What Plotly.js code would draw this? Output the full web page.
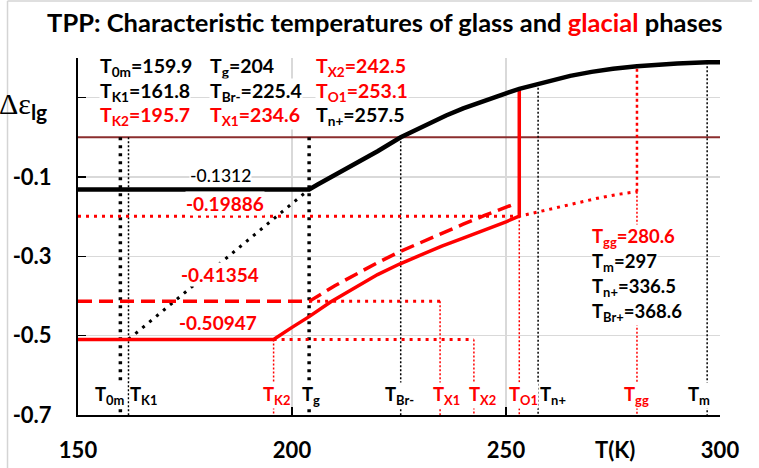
<!DOCTYPE html>
<html>
<head>
<meta charset="utf-8">
<script src="https://cdn.plot.ly/plotly-3.0.1.min.js"></script>
<style>html,body{margin:0;padding:0;background:#fff;}#chart{width:759px;height:468px;}</style>
</head>
<body>
<div id="chart"></div>
<script>
// ---------------- data ----------------
const xTicks = [150, 200, 250, 300];
const yTicks = [-0.7, -0.5, -0.3, -0.1, 0.1];
const yTickText = ['-0.7', '-0.5', '-0.3', '-0.1', ''];

// characteristic temperatures
const charKeys   = ['T0m', 'TK1', 'TK2', 'Tg', 'TBr-', 'TX1', 'TX2', 'TO1', 'Tn+', 'Tgg', 'Tm'];
const charTemps  = [159.9, 161.8, 195.7, 204, 225.4, 234.6, 242.5, 253.1, 257.5, 280.6, 297];
const charIsRed  = [false, false, true, false, false, true, true, true, false, true, false];

// plateau levels
const levelGlass = -0.1312;
const levelG1 = -0.19886;
const levelG2 = -0.41354;
const levelG3 = -0.50947;

// glass (black) curve
const T_glass  = [150, 204, 206, 208, 210, 213, 216, 220, 225.4, 230, 236, 240, 245, 250, 253.1, 257.5, 260, 265, 270, 275, 280.6, 285, 290, 297, 300];
const dE_glass = [-0.1312, -0.1312, -0.119, -0.107, -0.096, -0.078, -0.060, -0.035, 0.0, 0.024, 0.055, 0.073, 0.093, 0.111, 0.122, 0.135, 0.142, 0.155, 0.165, 0.173, 0.179, 0.183, 0.186, 0.189, 0.189];

// glacial solid curve
const T_solid  = [150, 195.7, 200, 204, 209, 215, 220, 225, 230, 235, 240, 245, 250, 253.1];
const dE_solid = [-0.50947, -0.50947, -0.479, -0.452, -0.415, -0.376, -0.346, -0.320, -0.297, -0.274, -0.254, -0.234, -0.213, -0.19886];

// glacial dashed curve
const T_dashed  = [150, 204, 210, 215, 220, 225, 230, 235, 240, 245, 250, 252.5];
const dE_dashed = [-0.41354, -0.41354, -0.374, -0.344, -0.316, -0.289, -0.265, -0.241, -0.219, -0.197, -0.176, -0.166];

// glacial dotted line / curve
const T_dotted  = [150, 253.1, 257.5, 262, 267, 272, 276, 280.6];
const dE_dotted = [-0.19886, -0.19886, -0.188, -0.177, -0.164, -0.152, -0.144, -0.137];

// right-hand list of further temperatures
const rightKeys = ['Tgg', 'Tm', 'Tn+', 'TBr+'];
const rightVals = [280.6, 297, 336.5, 368.6];
const rightRed  = [true, false, false, false];

// ---------------- helpers ----------------
const RED = '#ff0000';
const BLACK = '#000000';
const FONT = 'Lato, "Open Sans", sans-serif';
const Y0 = -0.7, Y1 = 0.2;
const PLOT_BOTTOM_PX = 415, PLOT_H_PX = 357;
function py(v) { return (v - Y0) / (Y1 - Y0); }                 // data -> paper y
function pxy(px) { return (PLOT_BOTTOM_PX - px) / PLOT_H_PX; }   // pixel row -> paper y
function interp(xs, ys, x) {
  for (let i = 1; i < xs.length; i++) {
    if (x <= xs[i]) {
      const t = (x - xs[i - 1]) / (xs[i] - xs[i - 1]);
      return ys[i - 1] + t * (ys[i] - ys[i - 1]);
    }
  }
  return ys[ys.length - 1];
}
function tc(key) { return charTemps[charKeys.indexOf(key)]; }
const yMin = -0.7;
function seg(x0, x1, y0, y1, color, width, dash) {
  return { x: [x0, x1], y: [y0, y1], mode: 'lines', type: 'scatter',
           line: { color: color, width: width, dash: dash }, hoverinfo: 'skip', showlegend: false };
}

const traces = [];
// zero line
traces.push(seg(150, 300, 0, 0, '#8b2e2e', 2, 'solid'));

// black verticals
const thickDot = '3px,5px';
const thinDot = '2px,2px';
traces.push(seg(tc('T0m'), tc('T0m'), 0, yMin, BLACK, 3.5, thickDot));
traces.push(seg(tc('TK1'), tc('TK1'), 0, yMin, BLACK, 1.5, thinDot));
traces.push(seg(tc('Tg'), tc('Tg'), 0, yMin, BLACK, 3.5, thickDot));
traces.push(seg(tc('TBr-'), tc('TBr-'), 0, yMin, BLACK, 1.5, thinDot));
traces.push(seg(tc('Tn+'), tc('Tn+'), interp(T_glass, dE_glass, tc('Tn+')), yMin, BLACK, 1.5, thinDot));
traces.push(seg(tc('Tm'), tc('Tm'), interp(T_glass, dE_glass, tc('Tm')), yMin, BLACK, 1.5, thinDot));

// red thin verticals
traces.push(seg(tc('TK2'), tc('TK2'), levelG3, yMin, RED, 1.5, thinDot));
traces.push(seg(tc('TX1'), tc('TX1'), levelG2, yMin, RED, 1.5, thinDot));
traces.push(seg(tc('TX2'), tc('TX2'), levelG3, yMin, RED, 1.5, thinDot));
traces.push(seg(tc('TO1'), tc('TO1'), levelG1, yMin, RED, 1.5, thinDot));
const ggLow = dE_dotted[dE_dotted.length - 1];
traces.push(seg(tc('Tgg'), tc('Tgg'), ggLow, yMin, RED, 1.5, thinDot));
traces.push(seg(tc('Tgg'), tc('Tgg'), ggLow, interp(T_glass, dE_glass, tc('Tgg')), RED, 2.5, '3px,3px'));

// black diagonal dotted
traces.push(seg(tc('TK1'), tc('Tg'), levelG3, levelGlass, BLACK, 3, '3px,6px'));

// red dotted horizontals
traces.push(seg(tc('Tg'), tc('TX1'), levelG2, levelG2, RED, 3, '3px,5px'));
traces.push(seg(tc('TK2'), tc('TX2'), levelG3, levelG3, RED, 3, '3px,5px'));
traces.push({ x: T_dotted, y: dE_dotted, mode: 'lines', type: 'scatter',
  line: { color: RED, width: 3, dash: '3px,5px' }, hoverinfo: 'skip', showlegend: false });

// dashed red
traces.push({ x: T_dashed, y: dE_dashed, mode: 'lines', type: 'scatter',
  line: { color: RED, width: 3.5, dash: '14px,7px' }, hoverinfo: 'skip', showlegend: false });

// solid red (plus jump at TO1 up to glass curve)
traces.push({ x: T_solid.concat([tc('TO1')]), y: dE_solid.concat([interp(T_glass, dE_glass, tc('TO1'))]),
  mode: 'lines', type: 'scatter', line: { color: RED, width: 3.5 }, hoverinfo: 'skip', showlegend: false });

// black glass curve
traces.push({ x: T_glass, y: dE_glass, mode: 'lines', type: 'scatter', line: { color: BLACK, width: 4.5 },
  hoverinfo: 'skip', showlegend: false });

// ---------------- annotations ----------------
function sub(k) {
  const m = k.match(/^T(.+)$/);
  return 'T<sub>' + m[1] + '</sub>';
}
function eqLine(k, val) { return sub(k) + '=' + val; }

const annotations = [];
function txt(x, xref, yPaper, text, size, color, weight, xanchor) {
  annotations.push({ x: x, y: yPaper, xref: xref, yref: 'paper', xanchor: xanchor || 'center', yanchor: 'middle',
    showarrow: false, bgcolor: '#ffffff', borderpad: 0, text: text,
    font: { family: FONT, size: size, color: color, weight: weight } });
}

// top columns (one annotation per line)
const topCols = [
  { keys: ['T0m', 'TK1', 'TK2'], x: 155.0 },
  { keys: ['Tg', 'TBr-', 'TX1'], x: 180.7 },
  { keys: ['TX2', 'TO1', 'Tn+'], x: 205.3 }
];
const topRowsPx = [67, 91.5, 115.5];
topCols.forEach(c => {
  c.keys.forEach((k, r) => {
    const i = charKeys.indexOf(k);
    txt(c.x, 'x', pxy(topRowsPx[r]), eqLine(k, charTemps[i]), 19.5, charIsRed[i] ? RED : BLACK, 'bold', 'left');
  });
});
// right block
const rightRowsPx = [237, 262, 287, 312];
rightKeys.forEach((k, r) => txt(269.8, 'x', pxy(rightRowsPx[r]), eqLine(k, rightVals[r]), 18.5,
  rightRed[r] ? RED : BLACK, 'bold', 'left'));

// level values
const levelLabels = [
  { v: levelGlass, x: 183.2, y: -0.0955, red: false, size: 17.5, w: 500 },
  { v: levelG1, x: 184.3, y: -0.166, red: true, size: 19, w: 'bold' },
  { v: levelG2, x: 183.2, y: -0.3448, red: true, size: 19, w: 'bold' },
  { v: levelG3, x: 182.7, y: -0.4657, red: true, size: 19, w: 'bold' }
];
levelLabels.forEach(l => txt(l.x, 'x', py(l.y), String(l.v), l.size, l.red ? RED : BLACK, l.w));

// bottom labels
const bottomX = [157.4, 165.4, 196.3, 204.4, 225.2, 236.2, 244.6, 254.2, 260.9, 280.5, 295.0];
charKeys.forEach((k, i) => txt(bottomX[i], 'x', pxy(395), sub(k), 18.5, charIsRed[i] ? RED : BLACK, 'bold'));

// axis titles
annotations.push({ x: 275.5, y: pxy(449), xref: 'x', yref: 'paper', yanchor: 'middle', showarrow: false, text: 'T(K)',
  font: { family: FONT, size: 22, color: BLACK, weight: 'bold' } });
annotations.push({ x: -0.045, y: pxy(106), xref: 'paper', yref: 'paper', xanchor: 'right', yanchor: 'middle', showarrow: false,
  text: "Δε<sub><span style='font-family:Lato;font-weight:bold'>lg</span></sub>",
  font: { family: '"Liberation Serif", serif', size: 30, color: BLACK } });

const layout = {
  width: 759, height: 468,
  margin: { l: 78, r: 39, t: 58, b: 53 },
  paper_bgcolor: '#ffffff', plot_bgcolor: '#ffffff',
  title: { text: "TPP: Characteristic temperatures of glass and <span style='color:" + RED + "'>glacial</span> phases",
    x: 0.507, xref: 'container', y: 0.951, yref: 'container', xanchor: 'center', yanchor: 'middle',
    font: { family: FONT, size: 25.5, color: BLACK, weight: 'bold' } },
  xaxis: { range: [150, 300], tickvals: xTicks, ticktext: xTicks.map(String), showgrid: true, gridcolor: '#d9d9d9', gridwidth: 1.5,
    zeroline: false, showline: true, linecolor: BLACK, linewidth: 2, ticks: 'inside', ticklen: 8, tickwidth: 1.5, tickcolor: BLACK,
    ticklabelstandoff: 15, tickfont: { family: FONT, size: 22, color: BLACK, weight: 'bold' }, fixedrange: true },
  yaxis: { range: [Y0, Y1], tickvals: yTicks, ticktext: yTickText, showgrid: true, gridcolor: '#d9d9d9', gridwidth: 1.5,
    zeroline: false, showline: true, linecolor: BLACK, linewidth: 2, ticks: 'inside', ticklen: 8, tickwidth: 1.5, tickcolor: BLACK,
    ticklabelstandoff: 20, tickfont: { family: FONT, size: 22, color: BLACK, weight: 'bold' }, fixedrange: true },
  annotations: annotations,
  shapes: [
    { type: 'line', xref: 'paper', yref: 'paper', x0: -0.1098, x1: -0.1098, y0: 1.16, y1: -0.16, line: { color: '#d4d4d4', width: 1.5 } },
    { type: 'line', xref: 'paper', yref: 'paper', x0: -0.1098, x1: 1.05, y0: 1.16, y1: 1.16, line: { color: '#d4d4d4', width: 1.5 } }
  ],
  hovermode: false, showlegend: false
};

Plotly.newPlot('chart', traces, layout, { displayModeBar: false, staticPlot: true });
</script>
</body>
</html>
